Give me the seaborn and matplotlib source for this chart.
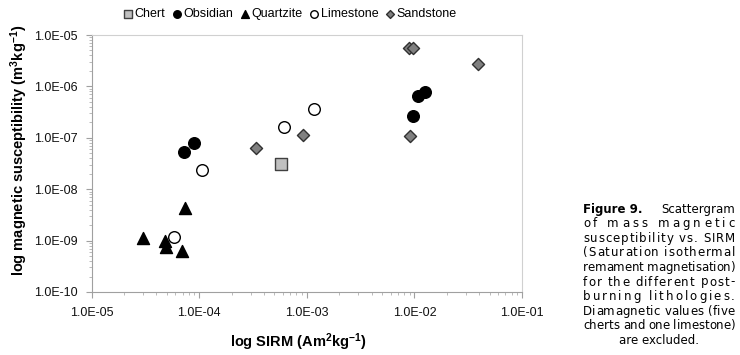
import matplotlib
matplotlib.use("Agg")
import matplotlib.pyplot as plt
import matplotlib.ticker as mticker
import numpy as np
import pandas as pd
import seaborn as sns

# ---- data ----
chert_x = [5.7e-4]
chert_y = [3.1e-8]
obsidian_x = [7.2e-5, 9.0e-5, 9.75e-3, 1.08e-2, 1.25e-2]
obsidian_y = [5.4e-8, 7.9e-8, 2.6e-7, 6.5e-7, 7.9e-7]
quartzite_x = [3.0e-5, 4.8e-5, 4.9e-5, 6.9e-5, 7.4e-5]
quartzite_y = [1.1e-9, 9.8e-10, 7.6e-10, 6.4e-10, 4.4e-9]
limestone_x = [5.8e-5, 1.07e-4, 6.1e-4, 1.16e-3]
limestone_y = [1.16e-9, 2.36e-8, 1.62e-7, 3.7e-7]
sandstone_x = [3.4e-4, 9.3e-4, 8.9e-3, 9.6e-3, 9.1e-3, 3.87e-2]
sandstone_y = [6.2e-8, 1.13e-7, 5.5e-6, 5.5e-6, 1.08e-7, 2.7e-6]

series_names = ["Chert", "Obsidian", "Quartzite", "Limestone", "Sandstone"]
x_ticks = [1e-5, 1e-4, 1e-3, 1e-2, 1e-1]
y_ticks = [1e-10, 1e-9, 1e-8, 1e-7, 1e-6, 1e-5]

caption_lines = [
    "of mass magnetic",
    "susceptibility vs. SIRM",
    "(Saturation isothermal",
    "remament magnetisation)",
    "for the different post-",
    "burning lithologies.",
    "Diamagnetic values (five",
    "cherts and one limestone)",
]
caption_last = "are excluded."

# ---- styles ----
styles = {
    "Chert": dict(marker="s", fc="#c0c0c0", ec="#404040", s=80),
    "Obsidian": dict(marker="o", fc="#000000", ec="#000000", s=70),
    "Quartzite": dict(marker="^", fc="#000000", ec="#000000", s=75),
    "Limestone": dict(marker="o", fc="#ffffff", ec="#000000", s=70),
    "Sandstone": dict(marker="D", fc="#808080", ec="#303030", s=38),
}
data = {
    "Chert": (chert_x, chert_y),
    "Obsidian": (obsidian_x, obsidian_y),
    "Quartzite": (quartzite_x, quartzite_y),
    "Limestone": (limestone_x, limestone_y),
    "Sandstone": (sandstone_x, sandstone_y),
}

plt.rcParams["font.family"] = ["Liberation Sans", "DejaVu Sans"]
plt.rcParams["mathtext.fontset"] = "custom"
plt.rcParams["mathtext.rm"] = "Liberation Sans:bold"
plt.rcParams["mathtext.it"] = "Liberation Sans:bold"
plt.rcParams["mathtext.bf"] = "Liberation Sans:bold"
plt.rcParams["mathtext.default"] = "rm"

W, H = 740, 355
fig = plt.figure(figsize=(W / 100, H / 100), dpi=100)
ax_l, ax_r, ax_t, ax_b = 91.7, 522, 35, 292
ax = fig.add_axes([ax_l / W, 1 - ax_b / H, (ax_r - ax_l) / W, (ax_b - ax_t) / H])
aw, ah = ax_r - ax_l, ax_b - ax_t

for name in series_names:
    xs, ys = data[name]
    st = styles[name]
    df = pd.DataFrame({"x": xs, "y": ys})
    sns.scatterplot(data=df, x="x", y="y", ax=ax, marker=st["marker"],
                    color=st["fc"], edgecolor=st["ec"], s=st["s"],
                    linewidth=1.0, label=name, zorder=3)

ax.set_xscale("log")
ax.set_yscale("log")
ax.set_xlim(1e-5, 1e-1)
ax.set_ylim(1e-10, 1e-5)
ax.set_xticks(x_ticks)
ax.set_yticks(y_ticks)
fmt = mticker.FuncFormatter(lambda v, p: "%.1E" % v)
ax.xaxis.set_major_formatter(fmt)
ax.yaxis.set_major_formatter(fmt)
ax.xaxis.set_minor_locator(mticker.LogLocator(base=10, subs=np.arange(2, 10), numticks=20))
ax.yaxis.set_minor_locator(mticker.LogLocator(base=10, subs=np.arange(2, 10), numticks=20))
ax.xaxis.set_minor_formatter(mticker.NullFormatter())
ax.yaxis.set_minor_formatter(mticker.NullFormatter())
ax.tick_params(axis="both", which="major", labelsize=9, length=4, color="#a0a0a0",
               direction="out", labelcolor="#111111")
ax.tick_params(axis="x", which="major", pad=7)
ax.tick_params(axis="y", which="major", pad=6)
ax.tick_params(axis="both", which="minor", length=2, color="#b0b0b0", direction="out")
for side in ["left", "bottom"]:
    ax.spines[side].set_color("#a0a0a0")
for side in ["top", "right"]:
    ax.spines[side].set_color("#d0d0d0")
ax.grid(False)

ax.set_xlabel("log SIRM (Am$^{2}$kg$^{-1}$)", fontsize=10.5, fontweight="bold")
ax.set_ylabel("log magnetic susceptibility (m$^{3}$kg$^{-1}$)", fontsize=10.5,
              fontweight="bold")
ax.xaxis.set_label_coords((298 - ax_l) / aw, -(331 - ax_b) / ah)
ax.yaxis.set_label_coords((30 - ax_l) / aw, (ax_b - 150) / ah)

leg = ax.legend(loc="center", bbox_to_anchor=(289 / W, 1 - 14 / H),
                bbox_transform=fig.transFigure, ncol=5, frameon=False,
                fontsize=9, handletextpad=0.05, columnspacing=0.4,
                handlelength=1.0, markerscale=0.65, borderaxespad=0)

# ---- caption, justified between x0 and x1 ----
x0, x1 = 583, 735
cap_size = 8.5
renderer = fig.canvas.get_renderer()

def width_of(s, **kw):
    if s == "":
        return 0.0
    t = fig.text(0, 0, s, fontsize=cap_size, family="DejaVu Sans", **kw)
    w = t.get_window_extent(renderer=renderer).width
    t.remove()
    return w

sp_w = width_of("a a") - width_of("aa")

def prefix_width(s):
    stripped = s.rstrip(" ")
    return width_of(stripped) + (len(s) - len(stripped)) * sp_w

y_first = 209
dy = 14.6
# line 1: bold "Figure 9." + regular "Scattergram"
fig.text(x0 / W, 1 - y_first / H, "Figure 9.", fontsize=cap_size, family="DejaVu Sans",
         fontweight="bold", va="center", ha="left")
fig.text(x1 / W, 1 - y_first / H, "Scattergram", fontsize=cap_size, family="DejaVu Sans",
         va="center", ha="right")

for i, line in enumerate(caption_lines):
    yy = y_first + (i + 1) * dy
    full = width_of(line)
    n = len(line)
    extra = (x1 - x0 - full) / (n - 1) if n > 1 else 0
    for j, ch in enumerate(line):
        if ch == " ":
            continue
        px = x0 + prefix_width(line[:j]) + j * extra
        fig.text(px / W, 1 - yy / H, ch, fontsize=cap_size, family="DejaVu Sans",
                 va="center", ha="left")

yy = y_first + (len(caption_lines) + 1) * dy
fig.text(((x0 + x1) / 2) / W, 1 - yy / H, caption_last, fontsize=cap_size,
         family="DejaVu Sans", va="center", ha="center")

fig.savefig("out.png", dpi=100)
